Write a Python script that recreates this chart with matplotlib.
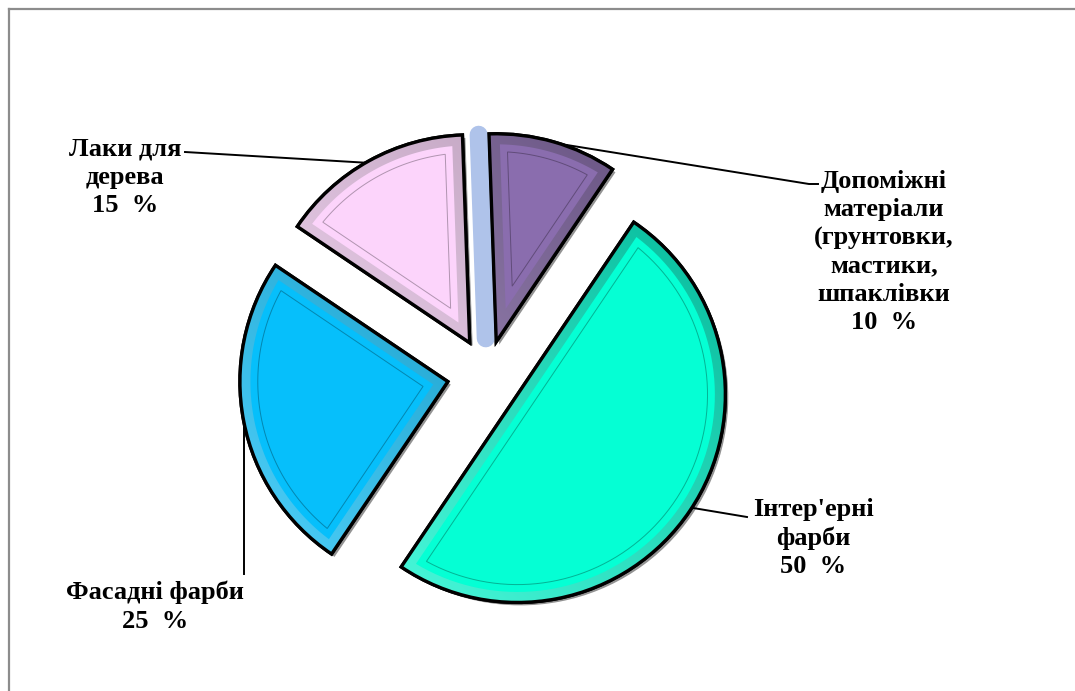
import numpy as np
import matplotlib.pyplot as plt
from matplotlib.patches import Wedge, Polygon

# Структура ринку лакофарбової продукції
labels = ['', 'Допоміжні\nматеріали\n(грунтовки,\nмастики,\nшпаклівки\n10  %',
          "Інтер'ерні\nфарби\n50  %", 'Фасадні фарби\n25  %', 'Лаки для\nдерева\n15  %']
values = [0, 10, 50, 25, 15]
colors = ['#AFC3EA', '#8A6DAE', '#05FFD4', '#06BFFB', '#FCD4FB']
explode = [0.17, 0.16, 0.175, 0.19, 0.17]

W, H = 1075, 691
CX, CY, R = 487, 374, 210  # центр і радіус круга в пікселях


def px(x, y):
    return (x - CX) / R, (CY - y) / R


def mix(c, other, t):
    c = np.array(plt.matplotlib.colors.to_rgb(c))
    o = np.array(plt.matplotlib.colors.to_rgb(other))
    return tuple(c * (1 - t) + o * t)


def inset_shape(center, r, t1, t2, d, n=80):
    # контур сектора, зсунутий всередину на d
    cx, cy = center
    h = np.radians(t2 - t1) / 2
    m = np.radians(t1 + t2) / 2
    k = d / np.sin(h)
    apex = np.array([cx + k * np.cos(m), cy + k * np.sin(m)])
    s = -k * np.cos(h) + np.sqrt((r - d) ** 2 - d ** 2)
    a1 = apex + s * np.array([np.cos(np.radians(t1)), np.sin(np.radians(t1))])
    a2 = apex + s * np.array([np.cos(np.radians(t2)), np.sin(np.radians(t2))])
    b1 = np.arctan2(a1[1] - cy, a1[0] - cx)
    b2 = np.arctan2(a2[1] - cy, a2[0] - cx)
    if b2 < b1:
        b2 += 2 * np.pi
    ang = np.linspace(b1, b2, n)
    arc = np.column_stack([cx + (r - d) * np.cos(ang), cy + (r - d) * np.sin(ang)])
    return np.vstack([apex, arc])


fig = plt.figure(figsize=(W / 100, H / 100), dpi=100)
ax = fig.add_axes([0, 0, 1, 1])
ax.axis('off')

wedges, _ = ax.pie(values, colors=colors, explode=explode, startangle=92,
                   counterclock=False, radius=0.99, normalize=True,
                   wedgeprops=dict(edgecolor='black', linewidth=2.4))

yy, xx = np.mgrid[0:1:64j, 0:1:64j]
for w, col, val in zip(wedges, colors, values):
    cx, cy = w.center
    if val == 0:
        # нульовий сектор - тонка смужка
        w.set_visible(False)
        a = np.radians(w.theta1)
        rr = np.array([0.0, 0.97])
        ax.plot(cx + rr * np.cos(a), cy + rr * np.sin(a), color=col, lw=13,
                solid_capstyle='round', zorder=3)
        continue
    w.set_zorder(2)
    # тінь
    sh = Wedge((cx + 0.014, cy - 0.014), w.r, w.theta1, w.theta2,
               facecolor='#3a3a3a', edgecolor='none', alpha=0.55, zorder=1)
    ax.add_patch(sh)
    # об'ємна фаска: градієнт від світлого до темного
    light = np.array(mix(col, 'white', 0.3))
    dark = np.array(mix(col, 'black', 0.28))
    t = np.clip((xx + (1 - yy)) / 2, 0, 1)[..., None]
    grad = light * (1 - t) + dark * t
    x0, y0 = cx - w.r, cy - w.r
    im = ax.imshow(grad, extent=(x0, x0 + 2 * w.r, y0, y0 + 2 * w.r),
                   origin='upper', zorder=3, interpolation='bilinear', aspect='auto')
    im.set_clip_path(w)
    inner = inset_shape((cx, cy), w.r, w.theta1, w.theta2, 0.05)
    ax.add_patch(Polygon(inner, closed=True, facecolor=col, edgecolor='none', zorder=4))
    line = inset_shape((cx, cy), w.r, w.theta1, w.theta2, 0.085)
    ax.add_patch(Polygon(line, closed=True, facecolor='none',
                         edgecolor=mix(col, 'black', 0.3), lw=0.7, zorder=5))
    ax.add_patch(Wedge((cx, cy), w.r, w.theta1, w.theta2, facecolor='none',
                       edgecolor='black', lw=2.4, zorder=6))

ax.set_xlim(-CX / R, (W - CX) / R)
ax.set_ylim(-(H - CY) / R, CY / R)
ax.set_aspect('auto')


def arc_point(w, deg):
    a = np.radians(deg)
    return w.center[0] + w.r * np.cos(a), w.center[1] + w.r * np.sin(a)


font = dict(family='Liberation Serif', fontweight='bold', fontsize=19,
            ha='center', va='top', linespacing=1.28, zorder=8)

# Допоміжні матеріали
p = arc_point(wedges[1], 72)
e = px(809, 184)
ax.plot([p[0], e[0], px(818, 184)[0]], [p[1], e[1], e[1]], color='black', lw=1.4, zorder=7)
ax.text(*px(884, 170), labels[1], **font)

# Інтер'ерні фарби
p = arc_point(wedges[2], -33)
e = px(747, 517)
ax.plot([p[0], e[0]], [p[1], e[1]], color='black', lw=1.4, zorder=7)
ax.text(*px(813, 498), labels[2], **font)

# Фасадні фарби
p = arc_point(wedges[3], 192)
ax.plot([p[0], p[0]], [p[1], px(0, 574)[1]], color='black', lw=1.4, zorder=7)
ax.text(*px(155, 581), labels[3], **font)

# Лаки для дерева
p = arc_point(wedges[4], 120)
e = px(185, 152)
ax.plot([p[0], e[0]], [p[1], e[1]], color='black', lw=1.4, zorder=7)
ax.text(*px(125, 138), labels[4], **font)

# рамка зверху і зліва
fig.add_artist(plt.Line2D([9 / W, 9 / W], [0, 1 - 9 / H], color='#8c8c8c', lw=1.6))
fig.add_artist(plt.Line2D([9 / W, 1], [1 - 9 / H, 1 - 9 / H], color='#8c8c8c', lw=1.6))

fig.savefig('out.png', dpi=100)
